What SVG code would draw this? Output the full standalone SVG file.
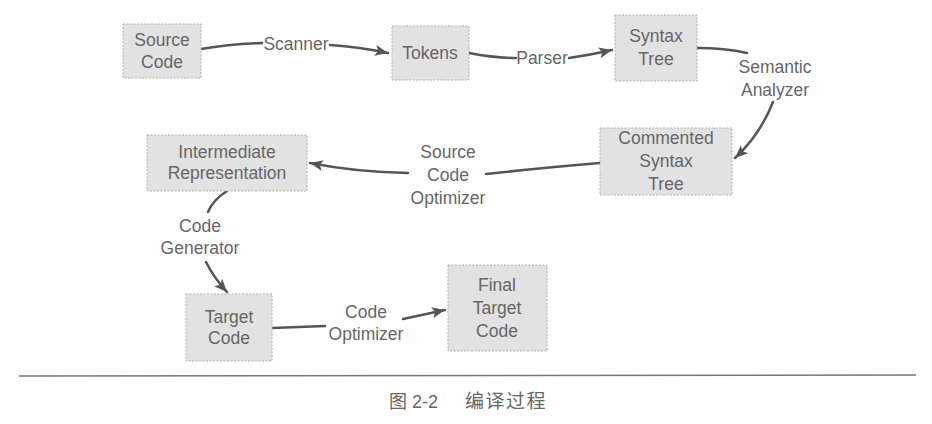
<svg xmlns="http://www.w3.org/2000/svg" width="932" height="424" viewBox="0 0 932 424">
<defs>
<marker id="arr" markerUnits="userSpaceOnUse" markerWidth="16" markerHeight="14" viewBox="-14 -7 16 14" refX="0" refY="0" orient="auto">
<path d="M0,0 L-13,-5.5 L-10,0 L-13,5.5 Z" fill="#555"/>
</marker>
</defs>
<style>
.box{fill:#e2e2e2;stroke:#b0b0b0;stroke-width:1;stroke-dasharray:2 1.5}
.t{font-family:"Liberation Sans",Arial,sans-serif;font-size:17.5px;fill:#666;text-anchor:middle}
.c{fill:none;stroke:#555;stroke-width:2.5;stroke-linecap:round}
.cap{font-family:"Liberation Sans","Noto Sans CJK SC",sans-serif;font-size:18px;fill:#666}
</style>
<rect width="932" height="424" fill="#fff"/>
<g id="connectors">
<path class="c" d="M201,49 Q230,44 262,43"/>
<path class="c" d="M330,45 Q360,47 388,53" marker-end="url(#arr)"/>
<path class="c" d="M469,53 Q495,58 516,58"/>
<path class="c" d="M569,58 Q590,55 612,50" marker-end="url(#arr)"/>
<path class="c" d="M697,48 Q725,48 747,53"/>
<path class="c" d="M773,102 Q760,135 735,158" marker-end="url(#arr)"/>
<path class="c" d="M600,163 Q540,168 486,174"/>
<path class="c" d="M408,173 Q355,172 310,163" marker-end="url(#arr)"/>
<path class="c" d="M227,191 Q213,200 208,212"/>
<path class="c" d="M206,262 Q214,278 227,292" marker-end="url(#arr)"/>
<path class="c" d="M272,328 L325,326"/>
<path class="c" d="M403,319 L445,310" marker-end="url(#arr)"/>
</g>
<g id="n-source">
<rect class="box" x="123" y="24" width="78" height="54"/>
<text class="t" x="162" y="46">Source</text>
<text class="t" x="162" y="68">Code</text>
</g>
<g id="n-tokens">
<rect class="box" x="392" y="26" width="77" height="54"/>
<text class="t" x="430" y="59">Tokens</text>
</g>
<g id="n-syntax">
<rect class="box" x="615" y="15" width="82" height="66"/>
<text class="t" x="656" y="42">Syntax</text>
<text class="t" x="656" y="65">Tree</text>
</g>
<g id="n-commented">
<rect class="box" x="600" y="128" width="132" height="67"/>
<text class="t" x="666" y="144">Commented</text>
<text class="t" x="666" y="167">Syntax</text>
<text class="t" x="666" y="190">Tree</text>
</g>
<g id="n-intermediate">
<rect class="box" x="147" y="135" width="160" height="56"/>
<text class="t" x="227" y="158">Intermediate</text>
<text class="t" x="227" y="179">Representation</text>
</g>
<g id="n-target">
<rect class="box" x="186" y="294" width="86" height="67"/>
<text class="t" x="229" y="323">Target</text>
<text class="t" x="229" y="344">Code</text>
</g>
<g id="n-final">
<rect class="box" x="448" y="265" width="99" height="86"/>
<text class="t" x="497" y="291">Final</text>
<text class="t" x="497" y="314">Target</text>
<text class="t" x="497" y="337">Code</text>
</g>
<g id="labels">
<text class="t" x="296" y="50">Scanner</text>
<text class="t" x="542" y="64">Parser</text>
<text class="t" x="775" y="73">Semantic</text>
<text class="t" x="775" y="96">Analyzer</text>
<text class="t" x="448" y="158">Source</text>
<text class="t" x="448" y="181">Code</text>
<text class="t" x="448" y="204">Optimizer</text>
<text class="t" x="200" y="232">Code</text>
<text class="t" x="200" y="254">Generator</text>
<text class="t" x="366" y="318">Code</text>
<text class="t" x="366" y="340">Optimizer</text>
</g>
<line x1="19" y1="376" x2="916" y2="375" stroke="#777" stroke-width="1.5"/>
<text class="cap" x="389" y="408">图 2-2</text>
<text class="cap" x="465" y="408" style="font-size:19px;letter-spacing:1.5px">编译过程</text>
</svg>
